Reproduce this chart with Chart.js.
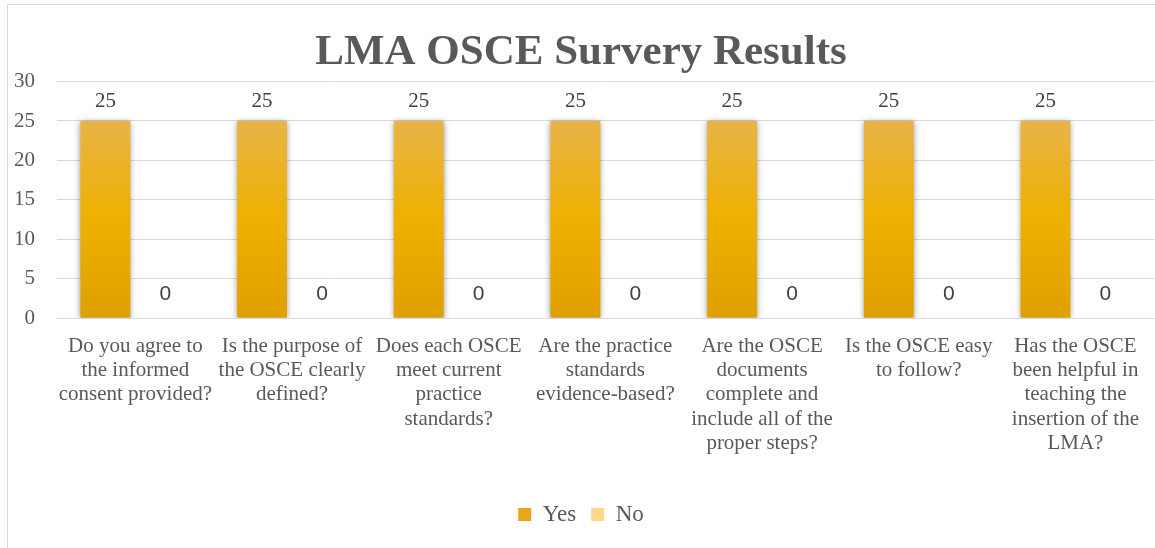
<!DOCTYPE html>
<html>
<head>
<meta charset="utf-8">
<script src="https://cdn.jsdelivr.net/npm/chart.js@4/dist/chart.umd.min.js"></script>
<style>
  html, body { margin: 0; padding: 0; background: #ffffff; }
  #wrap { width: 1155px; height: 548px; position: relative; }
</style>
</head>
<body>
<div id="wrap"><canvas id="chart" width="1155" height="548"></canvas></div>
<script>
// Survey questions (pre-wrapped into lines)
const categories = [
  ["Do you agree to", "the informed", "consent provided?"],
  ["Is the purpose of", "the OSCE clearly", "defined?"],
  ["Does each OSCE", "meet current", "practice", "standards?"],
  ["Are the practice", "standards", "evidence-based?"],
  ["Are the OSCE", "documents", "complete and", "include all of the", "proper steps?"],
  ["Is the OSCE easy", "to follow?"],
  ["Has the OSCE", "been helpful in", "teaching the", "insertion of the", "LMA?"]
];
const seriesNames = ["Yes", "No"];
const yesValues = [25, 25, 25, 25, 25, 25, 25];
const noValues = [0, 0, 0, 0, 0, 0, 0];
const yMin = 0, yMax = 30, yStep = 5;
const chartTitle = "LMA OSCE Survery Results";

const SERIF = "'Liberation Serif', 'Times New Roman', serif";
const SANS = "'Liberation Sans', Arial, sans-serif";
const TEXT = "#595959";

// vertical gradient fill for a bar, spanning from its value down to zero
function barGradient(ctx, stops, fallback) {
  const chart = ctx.chart;
  const y = chart.scales && chart.scales.y;
  if (!chart.chartArea || !y || ctx.raw === undefined) return fallback;
  const top = y.getPixelForValue(ctx.raw);
  const bottom = y.getPixelForValue(0);
  if (Math.abs(bottom - top) < 1) return fallback;
  const g = chart.ctx.createLinearGradient(0, top, 0, bottom);
  stops.forEach(s => g.addColorStop(s[0], s[1]));
  return g;
}
const yesStops = [[0, "#E9B448"], [0.5, "#EEB000"], [1, "#DFA000"]];
const noStops = [[0, "#FFDB93"], [0.5, "#FFD479"], [1, "#F6C76B"]];

// chart frame
const framePlugin = {
  id: "frame",
  beforeDraw(chart) {
    const c = chart.ctx;
    c.save();
    c.strokeStyle = "#D9D9D9";
    c.lineWidth = 1;
    c.strokeRect(7.5, 4.5, 1160, 600);
    c.restore();
  }
};

// soft shadow behind bars
const shadowPlugin = {
  id: "barShadow",
  beforeDatasetDraw(chart) {
    const c = chart.ctx;
    c.save();
    c.shadowColor = "rgba(0,0,0,0.4)";
    c.shadowBlur = 6;
    c.shadowOffsetX = 0;
    c.shadowOffsetY = 1;
  },
  afterDatasetDraw(chart) {
    chart.ctx.restore();
  }
};

// value labels above each bar
const labelStyles = [
  { font: "21px " + SERIF, color: "#404040", offset: 20 },
  { font: "21px " + SANS, color: "#404040", offset: 24 }
];
const valueLabelPlugin = {
  id: "valueLabels",
  afterDatasetsDraw(chart) {
    const c = chart.ctx;
    chart.data.datasets.forEach((ds, di) => {
      const meta = chart.getDatasetMeta(di);
      const st = labelStyles[di];
      c.save();
      c.font = st.font;
      c.fillStyle = st.color;
      c.textAlign = "center";
      c.textBaseline = "middle";
      meta.data.forEach((el, i) => {
        c.fillText(String(ds.data[i]), el.x, el.y - st.offset);
      });
      c.restore();
    });
  }
};

new Chart(document.getElementById("chart"), {
  type: "bar",
  data: {
    labels: categories,
    datasets: [
      {
        label: seriesNames[0],
        data: yesValues,
        backgroundColor: (ctx) => barGradient(ctx, yesStops, "#E8A90E"),
        borderWidth: 0
      },
      {
        label: seriesNames[1],
        data: noValues,
        backgroundColor: (ctx) => barGradient(ctx, noStops, "#FFD88A"),
        borderWidth: 0
      }
    ]
  },
  options: {
    responsive: false,
    animation: false,
    devicePixelRatio: 1,
    datasets: {
      bar: { categoryPercentage: 0.765, barPercentage: 0.833 }
    },
    layout: { padding: { left: 7, right: 0, top: 27, bottom: 12 } },
    plugins: {
      title: {
        display: true,
        text: chartTitle,
        color: TEXT,
        font: { family: SERIF, size: 43, weight: "bold", lineHeight: 1.2 },
        padding: { top: 0, bottom: 3 }
      },
      legend: {
        display: true,
        position: "bottom",
        labels: {
          color: TEXT,
          font: { family: SERIF, size: 23 },
          boxWidth: 13,
          boxHeight: 13,
          padding: 15,
          generateLabels(chart) {
            const fills = ["#E6A817", "#FFD88A"];
            return chart.data.datasets.map((ds, i) => ({
              text: ds.label,
              fillStyle: fills[i],
              strokeStyle: fills[i],
              lineWidth: 0,
              hidden: false,
              datasetIndex: i,
              fontColor: TEXT
            }));
          }
        }
      },
      tooltip: { enabled: false }
    },
    scales: {
      x: {
        grid: { display: false, drawTicks: false },
        border: { display: true, color: "#D9D9D9", width: 1 },
        ticks: {
          color: TEXT,
          font: { family: SERIF, size: 21, lineHeight: 1.16 },
          padding: 16,
          maxRotation: 0,
          autoSkip: false
        },
        afterFit(scale) { scale.height = 170; }
      },
      y: {
        min: yMin,
        max: yMax,
        grid: { color: "#D9D9D9", lineWidth: 1, drawTicks: false },
        border: { display: false },
        ticks: {
          stepSize: yStep,
          color: TEXT,
          font: { family: SERIF, size: 21 },
          padding: 22
        },
        afterFit(scale) { scale.width = 50; }
      }
    }
  },
  plugins: [framePlugin, shadowPlugin, valueLabelPlugin]
});
</script>
</body>
</html>
